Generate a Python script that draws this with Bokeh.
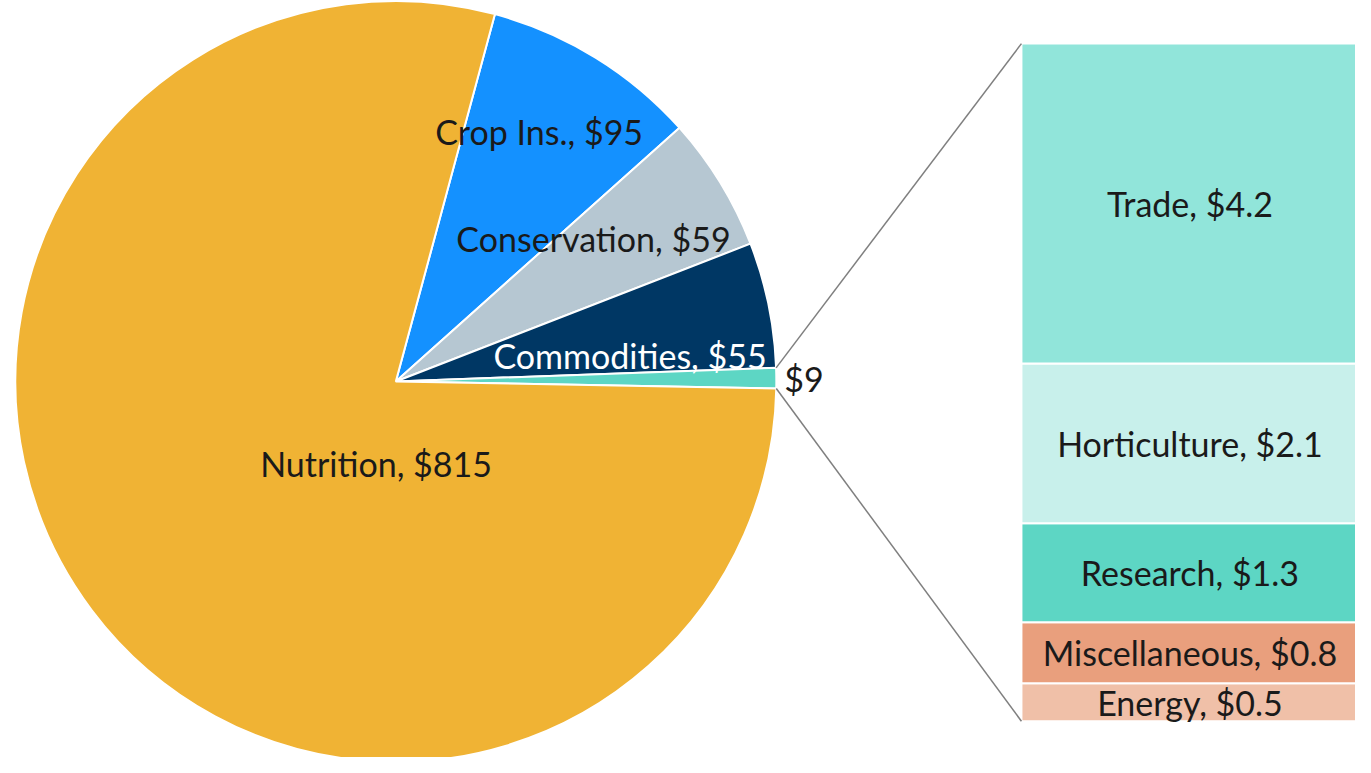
import math
from bokeh.plotting import figure
from bokeh.models import Range1d, ColumnDataSource
from bokeh.embed import file_html
from bokeh.resources import INLINE
from bokeh.core.properties import value

# ---- data ----
pie_names = ["Crop Ins.", "Conservation", "Commodities", "Other", "Nutrition"]
pie_values = [95, 59, 55, 9, 815]
pie_colors = ["#1491FF", "#B6C7D2", "#003764", "#5DD6C4", "#F0B334"]

bar_names = ["Energy", "Miscellaneous", "Research", "Horticulture", "Trade"]
bar_values = [0.5, 0.8, 1.3, 2.1, 4.2]
bar_colors = ["#F0C0A8", "#E99F7D", "#5DD6C4", "#C8F0EB", "#91E5DA"]

W, H = 1355, 757
RW, RH = 1371, 773
p = figure(width=W, height=H, output_backend="svg", toolbar_location=None,
           x_range=Range1d(0, RW), y_range=Range1d(0, RH),
           min_border=0, outline_line_color=None)
p.axis.visible = False
p.grid.visible = False
p.background_fill_color = "white"
p.border_fill_color = "white"

FONT = value("Lato")
FS = "34px"

# ---- pie ----
cx, cy, R = 400, RH - 389, 385
start_deg = 74.9
total = sum(pie_values)
starts, ends = [], []
a = math.radians(start_deg)
for v in pie_values:
    da = v / total * 2 * math.pi
    ends.append(a)
    starts.append(a - da)
    a -= da
src = ColumnDataSource(dict(start=starts, end=ends, color=pie_colors, name=pie_names))
p.wedge(x=cx, y=cy, radius=R, start_angle="start", end_angle="end",
        fill_color="color", line_color="white", line_width=2, source=src)

# pie labels (offsets from centre, px)
lab_off = {"Crop Ins.": (145, 255), "Conservation": (200, 146),
           "Commodities": (237, 27), "Nutrition": (-20, -84)}
for nm, v in zip(pie_names, pie_values):
    if nm == "Other":
        continue
    dx, dy = lab_off[nm]
    p.text(x=[cx + dx], y=[cy + dy], text=[f"{nm}, ${v}"], text_font=FONT,
           text_font_size=FS, text_align="center", text_baseline="middle",
           text_color="white" if nm == "Commodities" else "#1a1a1a")

# ---- bar ----
bar_total = sum(bar_values)
bar_top_data, bar_bot_data = RH - 44, RH - 736
k = bar_total / (bar_top_data - bar_bot_data)
p.extra_y_ranges = {"bar": Range1d(-bar_bot_data * k,
                                   bar_total + (RH - bar_top_data) * k)}
bx0, bx1 = 1033, 1378
bottoms, tops = [], []
c = 0
for v in bar_values:
    bottoms.append(c)
    c += v
    tops.append(c)
bsrc = ColumnDataSource(dict(bottom=bottoms, top=tops, color=bar_colors,
                             mid=[(b + t) / 2 for b, t in zip(bottoms, tops)],
                             label=[f"{n}, ${v}" for n, v in zip(bar_names, bar_values)]))
p.quad(left=bx0, right=bx1, bottom="bottom", top="top", fill_color="color",
       line_color="white", line_width=2, y_range_name="bar", source=bsrc)
p.text(x=(bx0 + bx1) / 2 - 2, y="mid", text="label", text_font=FONT, text_font_size=FS,
       text_align="center", text_baseline="middle", text_color="#1a1a1a",
       y_range_name="bar", source=bsrc)

# ---- connectors ----
oi = pie_names.index("Other")
a_top, a_bot = ends[oi], starts[oi]
p1 = (cx + R * math.cos(a_top), cy + R * math.sin(a_top))
p2 = (cx + R * math.cos(a_bot), cy + R * math.sin(a_bot))
p.segment(x0=[p1[0], p2[0]], y0=[p1[1], p2[1]], x1=[bx0, bx0],
          y1=[bar_top_data, bar_bot_data], line_color="#7f7f7f", line_width=1.5)

# "$9" label
am = (a_top + a_bot) / 2
p.text(x=[cx + (R + 8) * math.cos(am)], y=[cy + (R + 8) * math.sin(am)],
       text=[f"${pie_values[oi]}"], text_font=FONT, text_font_size=FS,
       text_align="left", text_baseline="middle", text_color="#1a1a1a")

open("out.html", "w").write(file_html(p, INLINE))
